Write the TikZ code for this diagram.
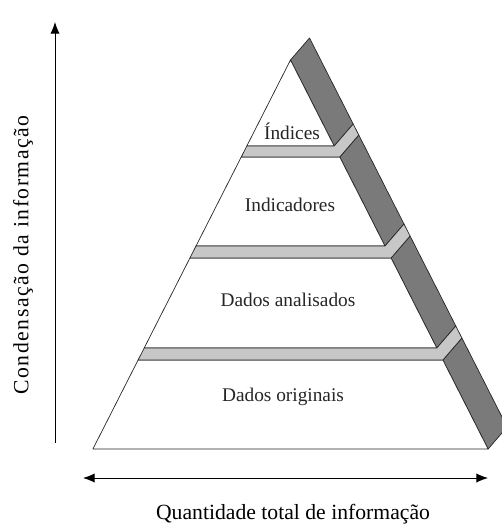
\documentclass[tikz,border=0pt]{standalone}
\usepackage{fontspec}
\setmainfont{Liberation Serif}
\newfontfamily\wideserif[LetterSpace=7]{Liberation Serif}
\usetikzlibrary{arrows.meta}

\tikzset{
  face/.style={draw=black!85, line width=0.6pt, fill=white, line join=round},
  side/.style={face, fill=black!52},
  ledge/.style={face, fill=black!22},
  tier/.style={font=\fontsize{16.5}{18}\selectfont, text=black!85},
  axis/.style={line width=0.8pt, -{Latex[length=10pt,width=8pt]}},
  declare function={xl(\y)=290.5-0.508*(\y-60); xr(\y)=290.5+0.508*(\y-60);}
}

\begin{document}
\begin{tikzpicture}[x=0.03cm,y=-0.03cm]
\useasboundingbox (0,0) rectangle (502,527);
\clip (0,0) rectangle (502,527);

% tiers, bottom first
\foreach \t/\b in {360/449,258/348,157/246,60/146}{
  \draw[side] ({xr(\t)},\t) -- ({xr(\b)},\b) -- ++(19,-22) -- ({xr(\t)+19},{\t-22}) -- cycle;
  \draw[face] ({xl(\t)},\t) -- ({xr(\t)},\t) -- ({xr(\b)},\b) -- ({xl(\b)},\b) -- cycle;
}
% ledges between tiers
\foreach \u/\l in {348/360,246/258,146/157}{
  \draw[ledge] ({xl(\l)},\l) -- ({xr(\l)},\l) -- ++(19,-22) -- ({xr(\u)+19},{\u-22})
    -- ({xr(\u)},\u) -- ({xl(\u)},\u) -- cycle;
}

\node[tier] (indices) at (292,131) {Índices};
\node[tier] (indicadores) at (290,205) {Indicadores};
\node[tier] (analisados) at (288,300) {Dados analisados};
\node[tier] (originais) at (283,397) {Dados originais};

% axes
\coordinate (vlow) at (55,443);
\coordinate (vtop) at (55,22);
\draw[axis] (vlow) -- (vtop);
\node[rotate=90, font=\fontsize{18.5}{20}\selectfont] (condensacao) at (23,255)
  {\wideserif Condensação da informação};

\coordinate (hleft) at (83,478);
\coordinate (hright) at (488,478);
\draw[axis, {Latex[length=10pt,width=8pt]}-{Latex[length=10pt,width=8pt]}] (hleft) -- (hright);
\node[font=\fontsize{18.5}{20}\selectfont] (quantidade) at (293,514) {Quantidade total de informação};
\end{tikzpicture}
\end{document}
